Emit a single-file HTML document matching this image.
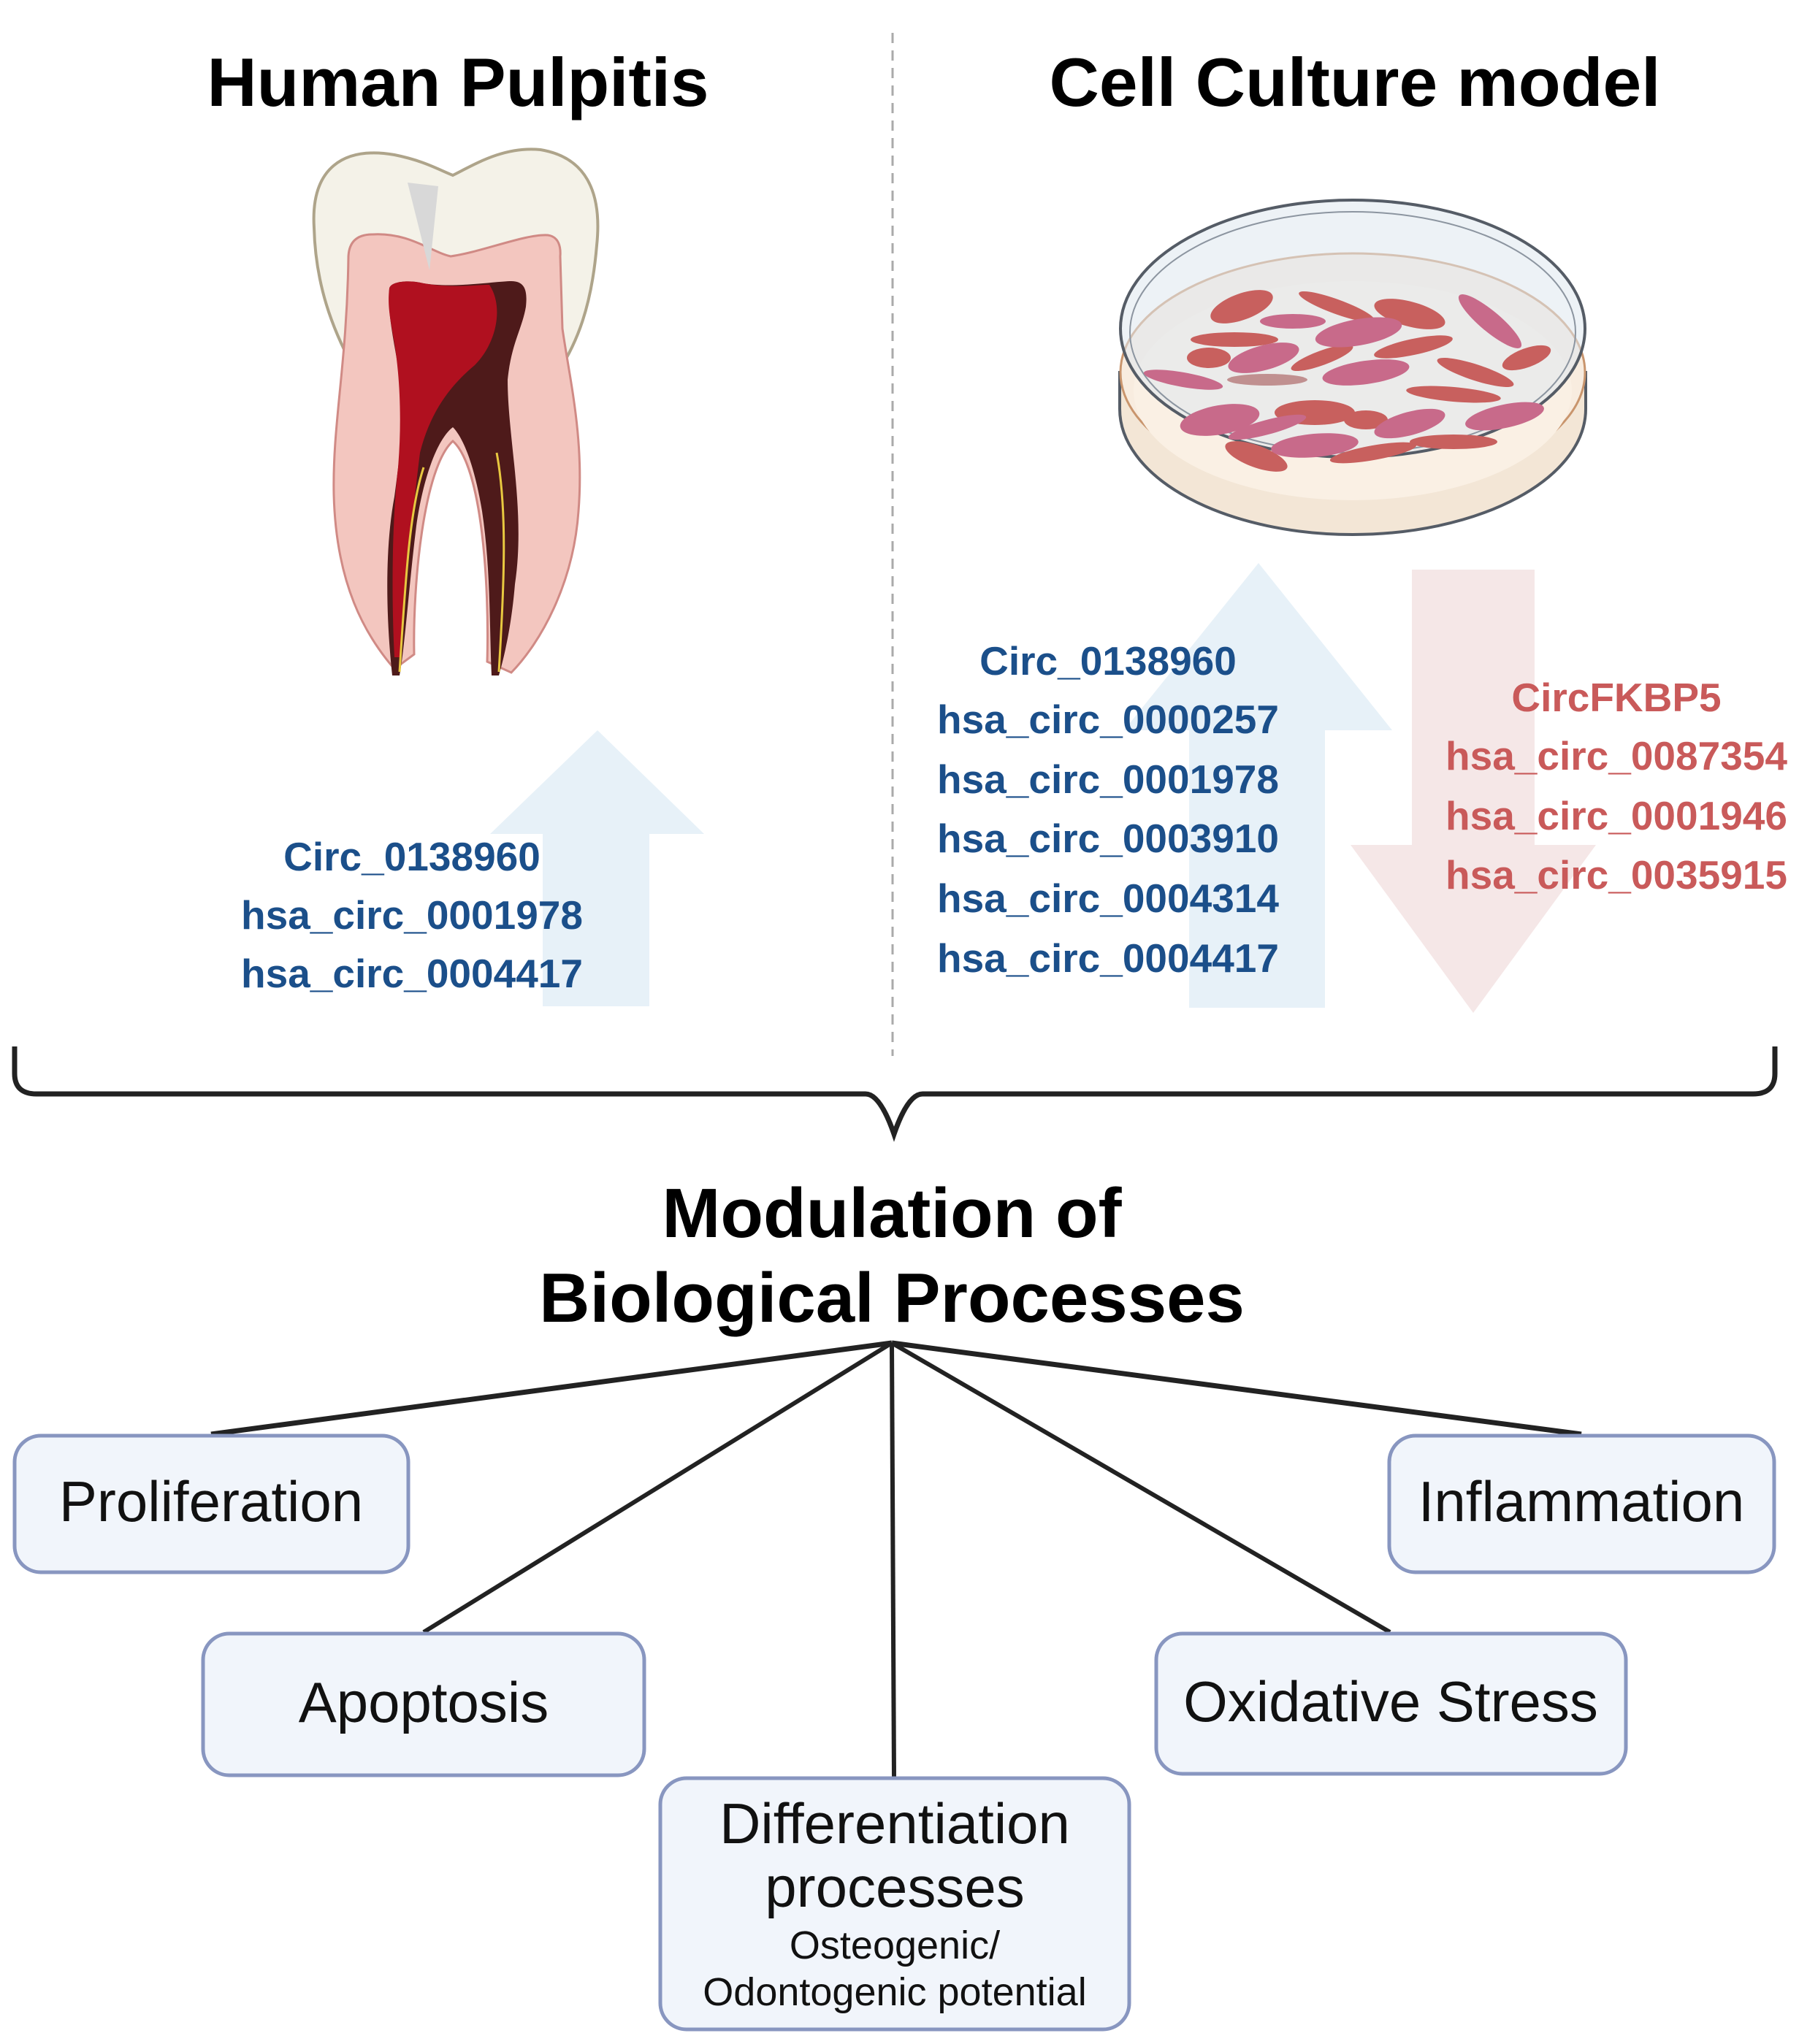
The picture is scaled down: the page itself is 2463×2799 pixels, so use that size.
<!DOCTYPE html>
<html><head><meta charset="utf-8"><style>
html,body{margin:0;padding:0;background:#fff;}
svg{display:block;}
</style></head><body>
<svg width="2463" height="2799" viewBox="0 0 2463 2799" xmlns="http://www.w3.org/2000/svg" font-family="'Liberation Sans', sans-serif">
<!-- titles -->
<text x="627" y="145" font-size="94" font-weight="bold" text-anchor="middle" textLength="687" lengthAdjust="spacingAndGlyphs">Human Pulpitis</text>
<text x="1855" y="145" font-size="94" font-weight="bold" text-anchor="middle" textLength="837" lengthAdjust="spacingAndGlyphs">Cell Culture model</text>
<line x1="1222" y1="45" x2="1222" y2="1446" stroke="#aaa" stroke-width="3" stroke-dasharray="14,10"/>

<!-- tooth -->
<path d="M430,312 C425,230 470,200 540,212 C580,220 600,232 620,240 C650,225 690,200 740,205 C800,215 825,260 817,336 C810,420 790,470 763,511 L483,502 C455,450 432,390 430,312 Z" fill="#f4f2e8" stroke="#aea48a" stroke-width="4"/>
<path d="M477,351 C478,330 490,321 510,321 C560,318 590,345 617,351 C660,345 720,320 750,322 C765,324 768,338 767,351 L770,450 C780,520 800,600 792,700 C785,800 740,880 700,921 L667,906 C670,800 660,640 620,604 C580,640 565,800 567,896 L540,916 C500,870 460,800 457,677 C455,580 475,500 477,351 Z" fill="#f3c6bf" stroke="#d08a85" stroke-width="3"/>
<path d="M533,395 C535,385 560,383 580,388 C620,395 680,385 700,385 C720,385 722,400 720,420 C715,450 700,470 695,520 C695,600 720,700 705,800 C700,860 690,900 683,925 L673,925 C670,860 672,780 660,700 C650,640 635,600 620,585 C600,600 580,650 570,720 C560,800 555,880 547,925 L537,925 C530,860 525,760 540,680 C548,620 555,560 550,530 C540,470 530,430 533,395 Z" fill="#4e1a1a"/>
<path d="M533,395 C535,385 560,383 580,388 C620,395 650,390 670,390 C690,420 680,470 650,500 C620,525 590,560 575,620 C565,700 555,800 548,900 L540,900 C535,800 538,700 545,640 C550,580 548,520 540,470 C535,440 530,420 533,395 Z" fill="#b0101f"/>
<path d="M558,250 L600,255 L588,370 Z" fill="#d8d8d8"/>
<path d="M547,920 C555,800 560,700 580,640 M683,920 C690,800 695,700 680,620" stroke="#e8c840" stroke-width="3" fill="none"/>

<!-- dish -->
<path d="M1533,510 L1533,560 A319,172 0 0 0 2171,560 L2171,510 Z" fill="#f3e6d6" stroke="#555c66" stroke-width="4"/>
<ellipse cx="1852" cy="510" rx="318" ry="163" fill="#f8ecdf" stroke="#c9956d" stroke-width="3"/>
<ellipse cx="1852" cy="535" rx="300" ry="150" fill="#faf0e4"/>
<ellipse cx="1852" cy="450" rx="318" ry="176" fill="#dfe8ef" fill-opacity="0.55" stroke="#555c66" stroke-width="4"/>
<ellipse cx="1852" cy="455" rx="305" ry="165" fill="none" stroke="#8c95a0" stroke-width="2"/>
<g fill="#c8605e">
<ellipse cx="1700" cy="420" rx="45" ry="18" transform="rotate(-20 1700 420)"/>
<ellipse cx="1830" cy="420" rx="55" ry="10" transform="rotate(20 1830 420)"/>
<ellipse cx="1930" cy="430" rx="50" ry="17" transform="rotate(15 1930 430)"/>
<ellipse cx="1690" cy="465" rx="60" ry="10"/>
<ellipse cx="1810" cy="490" rx="45" ry="10" transform="rotate(-20 1810 490)"/>
<ellipse cx="1935" cy="475" rx="55" ry="11" transform="rotate(-12 1935 475)"/>
<ellipse cx="1655" cy="490" rx="30" ry="14"/>
<ellipse cx="2020" cy="510" rx="55" ry="11" transform="rotate(18 2020 510)"/>
<ellipse cx="2090" cy="490" rx="35" ry="13" transform="rotate(-20 2090 490)"/>
<ellipse cx="1800" cy="565" rx="55" ry="17"/>
<ellipse cx="1870" cy="575" rx="30" ry="13"/>
<ellipse cx="1990" cy="540" rx="65" ry="10" transform="rotate(5 1990 540)"/>
<ellipse cx="1990" cy="605" rx="60" ry="10"/>
<ellipse cx="1720" cy="625" rx="45" ry="15" transform="rotate(20 1720 625)"/>
<ellipse cx="1880" cy="620" rx="60" ry="10" transform="rotate(-10 1880 620)"/>
</g>
<g fill="#c86a8a">
<ellipse cx="1770" cy="440" rx="45" ry="10"/>
<ellipse cx="1860" cy="455" rx="60" ry="18" transform="rotate(-10 1860 455)"/>
<ellipse cx="2040" cy="440" rx="55" ry="14" transform="rotate(40 2040 440)"/>
<ellipse cx="1730" cy="490" rx="50" ry="17" transform="rotate(-15 1730 490)"/>
<ellipse cx="1870" cy="510" rx="60" ry="16" transform="rotate(-8 1870 510)"/>
<ellipse cx="1620" cy="520" rx="55" ry="10" transform="rotate(10 1620 520)"/>
<ellipse cx="1670" cy="575" rx="55" ry="20" transform="rotate(-10 1670 575)"/>
<ellipse cx="1930" cy="580" rx="50" ry="16" transform="rotate(-15 1930 580)"/>
<ellipse cx="2060" cy="570" rx="55" ry="16" transform="rotate(-12 2060 570)"/>
<ellipse cx="1735" cy="585" rx="55" ry="10" transform="rotate(-15 1735 585)"/>
<ellipse cx="1800" cy="610" rx="60" ry="16" transform="rotate(-5 1800 610)"/>
</g>
<ellipse cx="1735" cy="520" rx="55" ry="8" fill="#c09090"/>

<!-- arrows -->
<path d="M818,1000 L964,1142 L889,1142 L889,1378 L743,1378 L743,1142 L671,1142 Z" fill="#e7f1f8"/>
<path d="M1723,771 L1906,1000 L1814,1000 L1814,1380 L1628,1380 L1628,1000 L1539,1000 Z" fill="#e7f1f8"/>
<path d="M1933,780 L2101,780 L2101,1157 L2185,1157 L2017,1387 L1849,1157 L1933,1157 Z" fill="#f5e7e7"/>

<!-- circ labels -->
<g font-size="55" font-weight="bold" fill="#1b4f8a" text-anchor="middle">
<text x="564" y="1192">Circ_0138960</text>
<text x="564" y="1272">hsa_circ_0001978</text>
<text x="564" y="1352">hsa_circ_0004417</text>
<text x="1517" y="924">Circ_0138960</text>
<text x="1517" y="1004">hsa_circ_0000257</text>
<text x="1517" y="1086">hsa_circ_0001978</text>
<text x="1517" y="1167">hsa_circ_0003910</text>
<text x="1517" y="1249">hsa_circ_0004314</text>
<text x="1517" y="1331">hsa_circ_0004417</text>
</g>
<g font-size="55" font-weight="bold" fill="#c95a5a" text-anchor="middle">
<text x="2213" y="974">CircFKBP5</text>
<text x="2213" y="1054">hsa_circ_0087354</text>
<text x="2213" y="1136">hsa_circ_0001946</text>
<text x="2213" y="1217">hsa_circ_0035915</text>
</g>

<!-- brace -->
<path d="M20,1433 L20,1470 Q20,1498 50,1498 L1185,1498 Q1205,1498 1224,1553 Q1243,1498 1263,1498 L2400,1498 Q2430,1498 2430,1470 L2430,1433" fill="none" stroke="#222" stroke-width="7"/>

<!-- Modulation -->
<text x="1221" y="1694" font-size="96" font-weight="bold" text-anchor="middle">Modulation of</text>
<text x="1221" y="1810" font-size="96" font-weight="bold" text-anchor="middle">Biological Processes</text>

<!-- connectors -->
<g stroke="#222" stroke-width="7" fill="none">
<line x1="1221" y1="1839" x2="289" y2="1964"/>
<line x1="1221" y1="1839" x2="2165" y2="1964"/>
</g>
<g stroke="#222" stroke-width="6" fill="none">
<line x1="1221" y1="1839" x2="580" y2="2235"/>
<line x1="1221" y1="1839" x2="1903" y2="2235"/>
<line x1="1221" y1="1839" x2="1224" y2="2433"/>
</g>

<!-- boxes -->
<g fill="#f1f5fb" stroke="#8896c0" stroke-width="5">
<rect x="20" y="1966" width="539" height="187" rx="36"/>
<rect x="1902" y="1966" width="527" height="187" rx="36"/>
<rect x="278" y="2237" width="604" height="194" rx="36"/>
<rect x="1583" y="2237" width="643" height="192" rx="36"/>
<rect x="904" y="2435" width="642" height="344" rx="36"/>
</g>
<g font-size="78" text-anchor="middle" fill="#111">
<text x="289" y="2083">Proliferation</text>
<text x="2165" y="2083">Inflammation</text>
<text x="580" y="2358">Apoptosis</text>
<text x="1904" y="2357">Oxidative Stress</text>
<text x="1225" y="2524">Differentiation</text>
<text x="1225" y="2611">processes</text>
<text x="1225" y="2682" font-size="54">Osteogenic/</text>
<text x="1225" y="2746" font-size="54">Odontogenic potential</text>
</g>
</svg>
</body></html>
